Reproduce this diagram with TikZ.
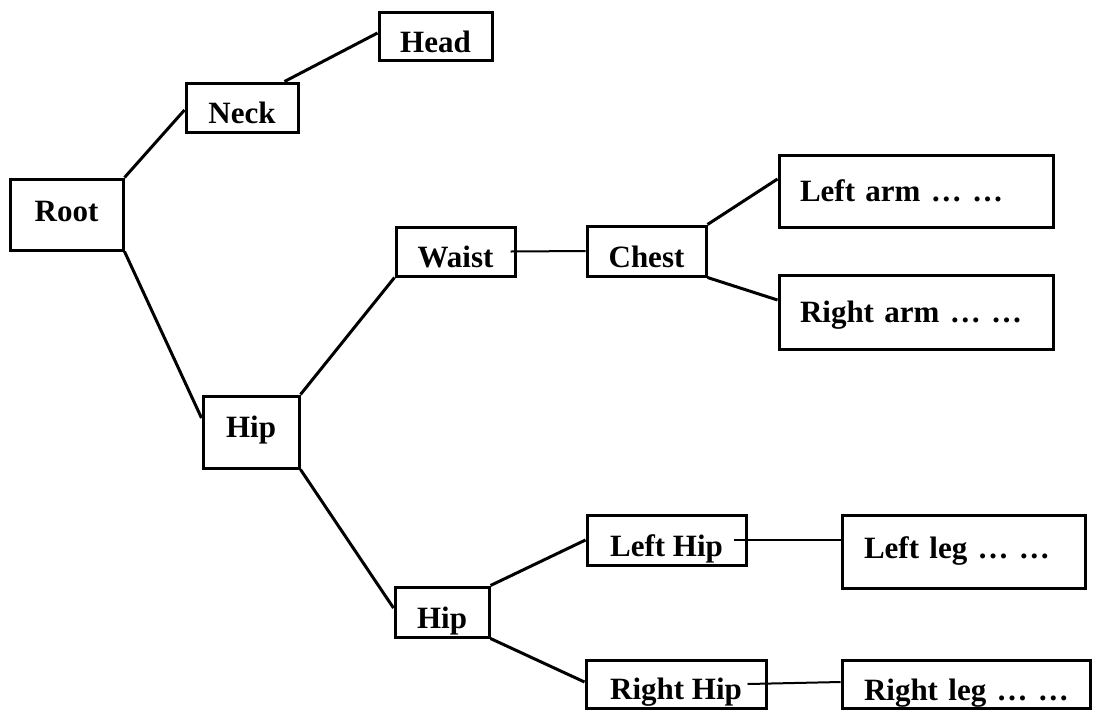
\documentclass[tikz,border=0pt]{standalone}
\usepackage{fontspec}
\setmainfont{Liberation Serif}
\usetikzlibrary{calc}
\begin{document}
\begin{tikzpicture}[x=1pt,y=-1pt,
  part/.style={draw, line width=3pt, rectangle, inner sep=0pt,
    font=\fontsize{31}{36}\selectfont\bfseries, text depth=6pt},
  wide/.style={part, text width=#1, align=left},
  link/.style={line width=3pt},
  flat/.style={line width=2pt}]
\useasboundingbox (0,0) rectangle (1094,710);

% skeleton joints
\node[part, minimum width=113pt, minimum height=71pt, text height=20.5pt] (root) at (66.5,214.5) {Root};
\node[part, minimum width=112pt, minimum height=49pt, text height=38.5pt] (neck) at (242,107.5) {Neck};
\node[part, minimum width=113pt, minimum height=48pt, text height=38.5pt] (head) at (435.5,36) {Head};
\node[part, minimum width=96pt, minimum height=72pt, text height=16.5pt] (hip1) at (251,432) {Hip};
\node[part, minimum width=119pt, minimum height=49pt, text height=38.5pt] (waist) at (455.5,251.5) {Waist};
\node[part, minimum width=119pt, minimum height=50pt, text height=38.5pt] (chest) at (646.5,251) {Chest};
\node[wide=274pt, minimum height=72pt, text height=26.5pt] (larm) at (916,191) {\hspace*{21pt}Left arm … …};
\node[wide=274pt, minimum height=74pt, text height=26.5pt] (rarm) at (916,312) {\hspace*{21pt}Right arm … …};
\node[part, minimum width=94pt, minimum height=50pt, text height=38.5pt] (hip2) at (442,612) {Hip};
\node[part, minimum width=159pt, minimum height=50pt, text height=38.5pt] (lhip) at (666.5,540) {Left Hip};
\node[part, minimum width=180pt, minimum height=48pt, text height=37.5pt] (rhip) at (676,684) {Right Hip};
\node[wide=243pt, minimum height=73pt, text height=19.5pt] (lleg) at (963.5,551.5) {\hspace*{22pt}Left leg … …};
\node[wide=248pt, minimum height=48pt, text height=38.5pt] (rleg) at (966,684) {\hspace*{22pt}Right leg … …};

% connections between joints
\draw[link] (root.north east) -- ([yshift=-2.5pt]neck.west);
\draw[link] ([xshift=-15pt]neck.north east) -- ([yshift=3pt]head.west);
\draw[link] (root.south east) -- ([yshift=14pt]hip1.west);
\draw[link] (hip1.north east) -- (waist.south west);
\draw[flat] ([xshift=-6pt]waist.east) -- (chest.west);
\draw[link] (chest.north east) -- ([yshift=12pt]larm.west);
\draw[link] (chest.south east) -- ([yshift=12pt]rarm.west);
\draw[link] (hip1.south east) -- ([yshift=4pt]hip2.west);
\draw[link] (hip2.north east) -- (lhip.west);
\draw[link] (hip2.south east) -- ([yshift=2pt]rhip.west);
\draw[flat] ([xshift=-14pt]lhip.east) -- ([yshift=11.5pt]lleg.west);
\draw[flat] ([xshift=-20pt]rhip.east) -- ([yshift=2pt]rleg.west);
\end{tikzpicture}
\end{document}
